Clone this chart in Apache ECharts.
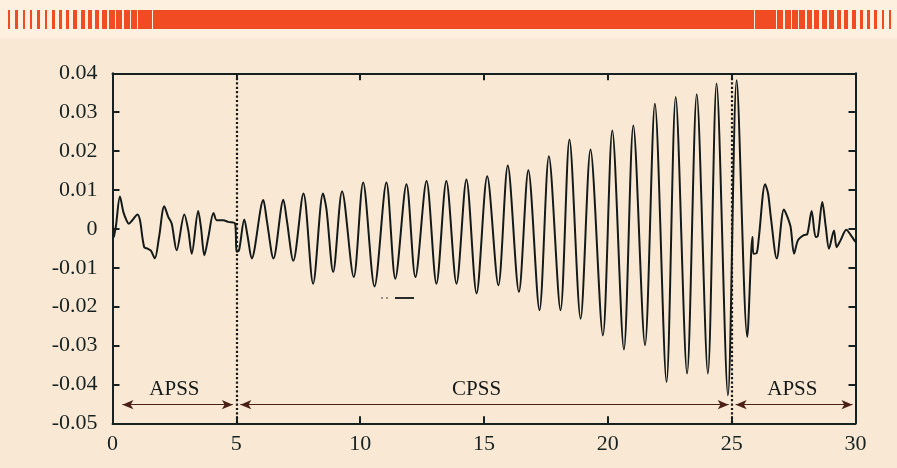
<!DOCTYPE html>
<html>
<head>
<meta charset="utf-8">
<script src="https://cdn.jsdelivr.net/npm/echarts@6/dist/echarts.min.js"></script>
<style>
html,body{margin:0;padding:0;background:#f9e9d4;}
#chart{width:897px;height:468px;}
</style>
</head>
<body>
<div id="chart"></div>
<script>
// ---- data ----
const timeS = [0.05,0.14,0.30,0.44,0.58,0.66,0.80,1.01,1.11,1.28,1.42,1.55,1.71,1.88,2.09,2.25,2.39,2.59,2.90,3.06,3.20,3.46,3.57,3.71,3.87,4.08,4.21,4.47,4.68,4.95,5.01,5.11,5.32,5.46,5.62,6.09,6.23,6.50,6.90,7.04,7.30,7.71,8.10,8.50,8.64,8.91,9.27,9.74,10.12,10.58,11.06,11.42,11.87,12.23,12.68,13.08,13.48,13.89,14.29,14.70,15.13,15.58,15.96,16.41,16.79,17.24,17.62,18.09,18.45,18.90,19.30,19.80,20.18,20.65,21.03,21.50,21.90,22.37,22.74,23.20,23.59,24.04,24.39,24.85,25.20,25.63,25.84,25.88,26.01,26.10,26.35,26.47,26.58,26.82,27.11,27.25,27.38,27.52,27.68,27.92,28.05,28.23,28.39,28.48,28.66,28.80,28.93,29.13,29.24,29.40,29.63,29.81,30.00];
const amplitude = [-0.0022,0.0008,0.0083,0.0043,0.0020,0.0013,0.0022,0.0037,0.0022,-0.0047,-0.0051,-0.0056,-0.0076,-0.0021,0.0058,0.0031,0.0014,-0.0055,0.0037,-0.0004,-0.0064,0.0046,0.0005,-0.0068,-0.0021,0.0041,0.0022,0.0022,0.0018,0.0014,-0.0059,-0.0055,0.0024,-0.0021,-0.0076,0.0074,0.0022,-0.0076,0.0075,0.0022,-0.0082,0.0091,-0.0141,0.0091,0.0050,-0.0111,0.0097,-0.0124,0.0119,-0.0148,0.0119,-0.0128,0.0115,-0.0124,0.0123,-0.0141,0.0123,-0.0141,0.0127,-0.0166,0.0135,-0.0145,0.0163,-0.0162,0.0151,-0.0209,0.0187,-0.0209,0.0230,-0.0231,0.0204,-0.0274,0.0253,-0.0310,0.0266,-0.0299,0.0322,-0.0394,0.0339,-0.0372,0.0346,-0.0372,0.0374,-0.0428,0.0382,-0.0278,-0.0021,-0.0064,-0.0062,-0.0021,0.0115,0.0091,0.0031,-0.0076,0.0050,0.0031,0.0005,-0.0064,-0.0029,-0.0016,-0.0014,0.0046,-0.0021,-0.0018,0.0069,0.0005,-0.0051,-0.0004,-0.0047,-0.0029,-0.0002,-0.0016,-0.0034];
const xTickLabels = ['0','5','10','15','20','25','30'];
const yTickValues = [0.04,0.03,0.02,0.01,0,-0.01,-0.02,-0.03,-0.04,-0.05];
const yTickLabels = ['0.04','0.03','0.02','0.01','0','-0.01','-0.02','-0.03','-0.04','-0.05'];
const phaseBoundaries = [5, 25];
const phaseNames = ['APSS','CPSS','APSS'];
const phaseLabelX = [2.5, 14.7, 27.45];
const phaseLabelY = -0.0412;
const phaseArrows = [[0.4,4.86],[5.16,24.88],[25.16,29.88]];
const phaseArrowY = -0.0452;

// ---- chart ----
const chart = echarts.init(document.getElementById('chart'), null, {renderer:'canvas'});
const ink = '#162222';
const serif = '"Liberation Serif", "DejaVu Serif", serif';

function yLabel(v){
  for (let i=0;i<yTickValues.length;i++){ if (Math.abs(v-yTickValues[i])<1e-9) return yTickLabels[i]; }
  return '';
}
function xLabel(v){
  const i = Math.round(v/5);
  return (Math.abs(v - i*5) < 1e-9) ? xTickLabels[i] : '';
}

// banner stripes (decoration)
const stripes = [[8,10],[15,18],[23,25],[30,32],[37,40],[45,47],[52,55],[59,62],[66,69],[73,77],[81,85],[88,92],[95,99],[102,107],[109,115],[116,122],[124,130],[131,137],[138,152],[153,754],[755,776],[777,783],[785,791],[792,798],[799,805],[807,812],[814,819],[822,827],[829,834],[837,841],[844,848],[852,856],[860,863],[867,870],[874,877],[882,884],[889,891]];
const graphics = [{type:'rect', shape:{x:0,y:0,width:897,height:38}, style:{fill:'#fdf0de'}, z:-10}];
stripes.forEach(s => graphics.push({type:'rect', shape:{x:s[0], y:10, width:s[1]-s[0], height:19}, style:{fill:'#f04b23'}}));
graphics.push({type:'line', shape:{x1:381,y1:298,x2:388,y2:298}, style:{stroke:'#3a3a3a', lineWidth:1.2, lineDash:[2,3]}});
graphics.push({type:'line', shape:{x1:395,y1:298,x2:414,y2:298}, style:{stroke:'#2a2a2a', lineWidth:2}});

const arrowData = phaseArrows.map(a => [{coord:[a[0],phaseArrowY]},{coord:[a[1],phaseArrowY]}]);

const option = {
  backgroundColor: 'transparent',
  animation: false,
  graphic: graphics,
  grid: {left:112.5, right:41.5, top:73.3, bottom:44.7, containLabel:false},
  xAxis: [
    {type:'value', min:0, max:30, interval:5, position:'bottom',
     axisLine:{show:true, onZero:false, lineStyle:{color:ink, width:2}},
     axisTick:{show:true, inside:true, length:7, lineStyle:{color:ink, width:2}},
     axisLabel:{show:true, margin:10, color:ink, fontFamily:serif, fontSize:22, formatter:xLabel},
     splitLine:{show:false}},
    {type:'value', min:0, max:30, interval:5, position:'top',
     axisLine:{show:true, onZero:false, lineStyle:{color:ink, width:2}},
     axisTick:{show:true, inside:true, length:7, lineStyle:{color:ink, width:2}},
     axisLabel:{show:false}, splitLine:{show:false}}
  ],
  yAxis: [
    {type:'value', min:-0.05, max:0.04, interval:0.01, position:'left',
     axisLine:{show:true, onZero:false, lineStyle:{color:ink, width:2}},
     axisTick:{show:true, inside:true, length:7, lineStyle:{color:ink, width:2}},
     axisLabel:{show:true, margin:15, color:ink, fontFamily:serif, fontSize:22, formatter:yLabel},
     splitLine:{show:false}},
    {type:'value', min:-0.05, max:0.04, interval:0.01, position:'right',
     axisLine:{show:true, onZero:false, lineStyle:{color:ink, width:2}},
     axisTick:{show:true, inside:true, length:7, lineStyle:{color:ink, width:2}},
     axisLabel:{show:false}, splitLine:{show:false}}
  ],
  series: [
    {type:'line', xAxisIndex:0, yAxisIndex:0,
     data: timeS.map((t,i)=>[t, amplitude[i]]),
     showSymbol:false, symbol:'none', smooth:0.3,
     lineStyle:{color:'#141a1a', width:2},
     z:5,
     markLine:{silent:true, symbol:['none','none'], label:{show:false},
       lineStyle:{color:'#1a1a1a', type:'dotted', width:2.2},
       data: phaseBoundaries.map(b => ({xAxis:b}))}
    },
    {type:'line', xAxisIndex:0, yAxisIndex:0, data:[], symbol:'none',
     markLine:{silent:true, symbol:['arrow','arrow'], symbolSize:[7,11], label:{show:false},
       lineStyle:{color:'#4a2016', type:'solid', width:1},
       data: arrowData}
    },
    {type:'scatter', xAxisIndex:0, yAxisIndex:0, symbolSize:0,
     itemStyle:{opacity:1},
     data: phaseNames.map((n,i)=>({value:[phaseLabelX[i], phaseLabelY], name:n})),
     label:{show:true, position:'inside', formatter: p => p.name, color:'#141a1a', opacity:1, fontFamily:serif, fontSize:21}
    }
  ]
};
chart.setOption(option);
</script>
</body>
</html>
